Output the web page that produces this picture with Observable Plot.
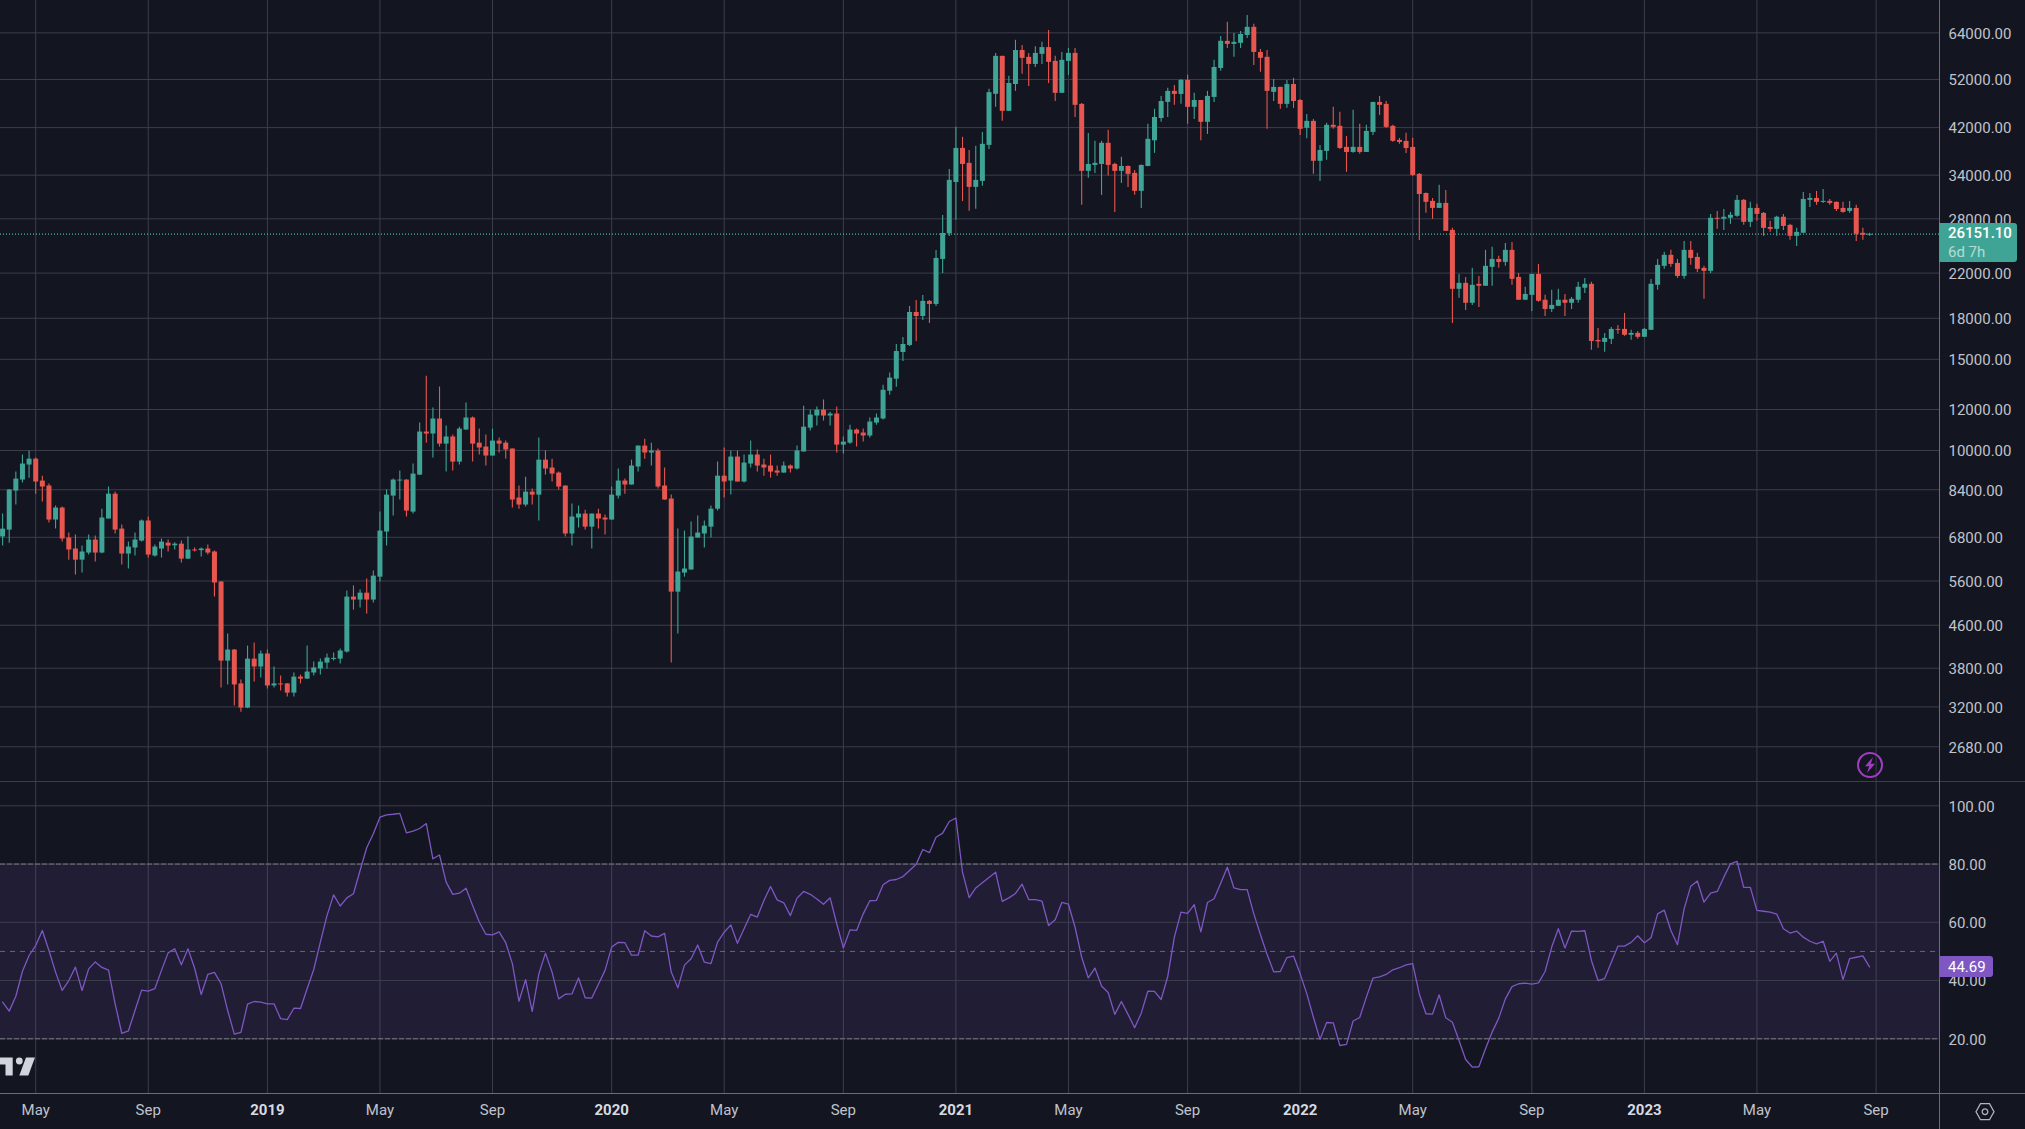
<!DOCTYPE html>
<html>
<head>
<meta charset="utf-8">
<script src="https://cdn.jsdelivr.net/npm/d3@7"></script>
<script src="https://cdn.jsdelivr.net/npm/@observablehq/plot@0.6"></script>
<style>
html,body{margin:0;padding:0;background:#131521;overflow:hidden}
#chart{position:relative;width:2025px;height:1129px;background:#131521;overflow:hidden;font-family:Roboto,sans-serif}
#chart svg{display:block}
.pane{position:absolute;left:0}
.line{position:absolute;background:#787b86}
.tag{position:absolute;left:1939px;color:#fff;box-sizing:border-box;text-align:left;padding-left:9px}
.icon{position:absolute;left:0;top:0;pointer-events:none}
</style>
</head>
<body>
<div id="chart"></div>
<script>
const opens = [
6810,7020,8350,8770,9375,9624,8730,8540,7342,7743,
6778,6455,6143,6340,6717,6340,7375,8237,7053,6312,
6483,6686,7311,6256,6455,6625,6549,6596,6171,6427,
6408,6455,6370,5574,3922,4120,3544,3183,3957,3821,
4048,3512,3544,3544,3402,3653,3620,3720,3788,3888,
3951,3957,4083,5213,5145,5305,5145,5696,6961,8167,
8731,8769,7606,8964,10855,10760,11503,10288,10620,9498,
10952,11555,10333,10155,9758,10428,10333,10067,8096,7848,
8312,8202,9580,9251,9046,8540,6900,7408,7540,7114,
7540,7408,7342,8167,8731,8579,9293,10200,9890,9979,
8540,8061,5329,5800,5880,6778,6900,7114,7705,8923,
8731,9714,8693,9416,9802,9375,9334,9128,9046,9334,
9211,9935,11046,11657,11965,11657,11760,10243,10333,10952,
10808,10666,11298,11503,13015,13730,15460,15950,18470,18140,
19400,19140,23380,26200,32910,38290,35830,32200,33070,38810,
48700,57650,45150,50860,59170,57400,55620,58160,59940,56380,
48910,56380,58410,46570,34580,35500,35660,39170,35660,34580,
35340,34270,31640,35340,39610,43730,46970,49340,48670,51800,
45960,47380,43000,48030,54630,61620,60800,61080,63260,65580,
58660,57400,49120,50220,46570,50860,47380,41870,43180,36160,
37780,42430,42240,38470,37610,38470,37610,41110,46970,46570,
42240,39680,39500,38460,34120,31340,30260,29330,29990,26600,
20470,21020,19240,20930,20750,22570,23380,23070,24340,21580,
19500,19930,21870,19500,18720,18980,19500,19240,19500,20570,
20930,16310,16170,16390,17130,17130,16690,16830,16540,17060,
20840,22670,23810,22970,21680,24340,23590,22470,22170,28070,
27950,28070,28320,30400,27570,29330,28690,26950,26720,28200,
27200,25910,26260,30400,30660,30130,30260,30130,29330,28940,
29330,26260,26030];
const closes = [
7050,8390,8807,9416,9624,8693,8502,7342,7743,6748,
6427,6143,6370,6717,6340,7408,8237,7022,6312,6511,
6717,7311,6284,6511,6656,6540,6596,6171,6427,6399,
6455,6340,5550,3922,4120,3528,3183,3957,3821,4048,
3512,3544,3528,3402,3653,3620,3736,3805,3905,3976,
3970,4102,5213,5145,5305,5145,5722,6991,8202,8769,
8769,7639,9005,10855,10760,11503,10288,10620,9498,10999,
11555,10288,10111,9758,10428,10288,10023,8025,7848,8312,
8202,9580,9211,9005,8502,6900,7441,7540,7114,7540,
7375,7342,8202,8731,8579,9334,10200,9890,9979,8502,
8025,5329,5828,5906,6809,6930,7146,7705,8923,8693,
9714,8693,9457,9802,9334,9251,9087,9046,9334,9211,
9979,11094,11708,11965,11657,11760,10243,10380,10952,10760,
10666,11350,11555,13070,13795,15530,16020,18470,18140,19400,
19140,23480,26240,33220,38290,35660,32200,33220,39000,49060,
57650,45150,51100,59170,57140,55620,58410,59940,56130,48910,
56630,58410,46370,34580,35660,35830,39170,35500,34580,35340,
34120,31640,35500,39870,43930,47160,49340,48670,51800,45960,
47380,43000,48250,54860,61640,60800,61350,63530,65580,58660,
57140,49340,50220,46570,50860,47160,41680,43180,36160,37940,
42430,42050,38290,37610,38470,37610,41300,46970,46370,42050,
39510,39320,38270,33960,31200,30130,29330,29990,26490,20470,
21020,19240,20840,20750,22670,23380,23070,24340,21400,19500,
20010,21870,19410,18720,19060,19500,19240,19580,20660,20930,
16240,16210,16460,17130,17060,16690,16830,16540,17130,20930,
22770,23810,22870,21680,24340,23480,22370,22170,28070,27950,
28200,28450,30400,27570,29330,28560,26840,26720,28200,27070,
25910,26370,30530,30660,30130,30260,29990,29190,28810,29330,
26140,26030,26151.1];
const highs = [
7540,8410,9087,9800,9980,9668,8923,8617,7814,7778,
6930,6870,6540,6870,6839,7705,8502,8312,7179,6656,
6930,7342,7441,6568,6748,6717,6635,6686,6809,6483,
6483,6568,6399,5590,4425,4130,3606,4193,4249,4102,
4120,3821,3669,3550,3720,3686,4193,3905,3957,4048,
4066,4138,5354,5478,5378,5647,5854,7606,8388,8807,
9128,8780,9416,11298,13915,12075,13260,11145,10713,11094,
12350,11607,10999,10713,10999,10573,10428,10070,8540,8883,
8426,10571,9979,9624,9087,8545,7883,7814,7672,7545,
7705,7507,8502,9211,8807,9580,10205,10510,10333,10067,
9251,8202,7053,6991,7278,7474,7311,7814,9498,10111,
9979,9979,9802,10428,10023,9624,9802,9334,9498,9375,
10200,12172,11965,12130,12520,11860,12130,10620,11190,10999,
10999,11555,11760,13370,14110,16020,16530,18970,19480,19920,
19480,24330,28420,34880,42050,40220,37940,38640,41110,49780,
58410,57700,52750,61900,60530,58410,60170,61350,64700,57650,
58660,59710,59710,46770,40920,39510,39510,41490,35830,36800,
35400,34730,35550,42620,45560,48250,50040,50660,52030,52980,
48910,47400,49340,56630,63000,67050,63810,64400,69100,66460,
59440,59170,52030,50250,51800,52280,47600,44540,43560,38810,
42810,45960,44950,40390,45350,42620,42430,47000,48250,47160,
42430,40000,40940,40040,34270,31400,30660,32500,31770,26840,
21870,21580,22470,21680,24340,24670,23700,25100,25210,21970,
20660,21900,22870,19930,20380,20470,20010,19750,21120,21490,
21120,17200,16830,17280,17430,18390,17060,16980,17200,21390,
23380,24130,24340,23380,25330,25330,24020,22670,28560,28940,
29190,28810,31070,30530,30130,29860,28810,27700,28320,28560,
27320,26840,31470,31340,31630,31910,30530,30160,30130,30260,
29730,26840,26260];
const lows = [
6540,6625,7850,8655,8845,8237,7954,7245,7053,6656,
6143,5748,5800,6284,6090,6320,7375,6900,6011,5906,
6256,6656,6200,6228,6200,6370,6427,6064,6160,6370,
6228,6284,5213,3480,3528,3212,3125,3175,3575,3637,
3465,3480,3433,3343,3343,3544,3615,3669,3686,3788,
3922,3872,4065,4919,4965,4835,5077,5574,6540,7474,
8025,7441,7540,8950,10330,9668,10155,9087,9128,9375,
10940,9498,9802,9334,9750,9890,9624,7743,7705,7778,
7848,7311,8964,8693,8388,6809,6540,7083,7022,6455,
7053,6870,7335,8061,8237,8570,9087,9624,9334,8426,
8020,3888,4425,5696,5875,6770,6483,6778,7639,8096,
8202,8690,8655,9251,9087,8923,8845,8923,9040,9046,
9170,9930,10904,11145,11400,11145,9890,9846,10288,10155,
10380,10573,11190,11452,12790,13250,14860,15880,16240,17830,
17590,18970,21970,25900,27810,30250,28950,29210,32350,38110,
45960,43180,45100,49340,53220,50440,54860,55620,51100,47160,
48900,52980,43940,29730,33520,34270,31080,33870,28800,32770,
32200,31080,29330,35300,37460,43000,43930,46370,46570,42620,
43560,39610,40750,46970,53930,59710,57400,59710,62440,55370,
53690,41680,47160,45560,45750,45750,40550,39990,34120,33070,
36310,41680,38110,34430,37460,37300,37600,40550,44340,41870,
39340,39000,37450,33800,25440,28690,27940,29320,26480,17590,
19670,18630,19060,18890,20740,20750,22470,22670,20840,19490,
19490,18550,19330,18150,18470,18970,18150,18720,19240,20100,
15610,15750,15470,16020,16760,16610,16320,16390,16530,17050,
20380,22370,22570,21490,21400,22770,22070,19580,21970,26720,
26600,27320,28200,27200,26950,27700,25910,26370,25910,26600,
25450,24770,26250,29460,29730,29990,29730,28940,28690,28690,
25330,25450,25910];
const rsiValues = [
32.6,29.5,34.6,43.2,48.6,52.0,57.2,50.3,42.9,36.6,
40.0,44.6,36.6,44.0,46.4,44.5,43.6,32.0,21.9,22.7,
29.7,36.7,36.4,37.2,43.5,49.5,50.9,45.4,50.9,44.3,
35.2,42.1,42.8,38.9,29.7,21.6,22.2,31.9,32.8,32.6,
32.0,32.0,26.9,26.6,30.5,30.4,37.2,43.8,53.2,62.3,
69.4,65.6,68.4,69.8,77.8,85.6,90.4,96.1,96.9,97.1,
97.4,90.7,91.3,92.2,93.9,81.8,83.1,73.8,69.6,70.0,
71.7,65.8,60.1,55.9,55.7,56.7,53.0,45.8,32.9,40.3,
29.4,42.3,49.4,42.9,33.7,35.3,35.4,40.9,34.1,34.0,
38.7,43.5,51.5,53.1,53.0,48.7,48.7,57.1,55.3,55.0,
56.2,42.9,37.5,45.3,47.5,52.2,46.3,45.8,53.2,56.6,
59.1,52.8,57.8,62.7,61.8,67.5,72.3,67.7,66.7,62.3,
68.3,70.6,69.6,68.0,66.2,68.4,59.5,51.2,57.4,57.2,
62.9,67.4,67.5,72.9,74.4,74.7,75.7,77.8,79.9,85.0,
83.9,89.2,90.6,94.6,95.8,77.2,68.5,71.8,73.6,75.4,
77.2,67.2,68.4,69.9,73.1,67.8,67.8,67.3,58.9,60.9,
66.8,66.2,58.3,48.0,40.9,44.3,38.1,35.9,28.4,32.8,
28.4,23.8,28.8,36.4,36.3,33.5,41.4,54.9,63.5,63.1,
66.1,56.7,66.8,68.1,73.4,78.9,71.8,71.2,71.2,62.9,
55.8,49.0,43.0,43.1,47.9,48.4,42.3,35.5,27.4,19.8,
25.6,25.5,17.7,18.1,26.1,27.3,34.3,40.8,41.3,42.1,
43.7,44.4,45.4,45.8,35.4,28.6,28.5,35.1,27.2,25.7,
19.4,12.9,10.3,10.4,16.6,22.3,27.1,33.7,37.9,38.9,
39.1,38.8,39.2,43.1,51.5,57.8,51.2,57.0,56.9,57.1,
46.9,40.0,40.7,46.3,51.8,51.8,53.1,55.4,53.0,54.7,
62.9,64.2,57.2,52.3,64.6,72.4,74.2,66.9,70.0,70.6,
75.5,80.1,80.9,72.0,72.0,64.1,63.8,63.5,62.8,57.8,
56.3,57.0,54.9,53.5,52.6,53.5,46.6,49.4,40.3,47.5,
48.0,48.5,44.69];
const priceTicks = [64000,52000,42000,34000,28000,22000,18000,15000,12000,10000,8400,6800,5600,4600,3800,3200,2680];
const rsiTicks = [100,80,60,40,20];
const monthTicks = ["2018-05-07","2018-09-03","2019-05-06","2019-09-02","2020-05-04","2020-09-07","2021-05-03","2021-09-06","2022-05-02","2022-09-05","2023-05-01","2023-09-04"].map(d=>new Date(d));
const yearTicks = ["2019-01-07","2020-01-06","2021-01-04","2022-01-03","2023-01-02"].map(d=>new Date(d));
const allTicks = [...monthTicks,...yearTicks];
const lastPrice = 26151.10, lastRsi = 44.69, countdown = "6d 7h";

const weeks = d3.utcMonday.range(new Date("2018-04-02"), new Date("2023-09-04"));
const bars = weeks.map((date,i)=>({date,open:opens[i],high:highs[i],low:lows[i],close:closes[i],rsi:rsiValues[i]}));
const up = bars.filter(d=>d.close>=d.open), down = bars.filter(d=>d.close<d.open);

const GREEN="#3fa495", RED="#e8574f", GRID="#3b3e4b", LABEL="#c0c3cb", PURPLE="#7e57c2";
const xScale = {type:"utc",domain:[new Date("2018-05-07"),new Date("2023-09-04")],range:[35.2,1875.6],axis:null};
const font = {fontFamily:"Roboto,sans-serif",fontSize:"15px",background:"transparent",overflow:"visible"};
const candle = (data,color)=>[
  Plot.ruleX(data,{x:"date",y1:"low",y2:"high",stroke:color,strokeWidth:1.1}),
  Plot.ruleX(data,{x:"date",y1:"open",y2:"close",stroke:color,strokeWidth:5})
];

const priceChart = Plot.plot({
  width:2025,height:781,marginTop:0,marginBottom:0,marginLeft:0,marginRight:86,style:font,
  x:xScale,
  y:{type:"log",domain:[2680,73890],range:[746.3,0],axis:null},
  marks:[
    Plot.ruleX(allTicks,{stroke:GRID,strokeWidth:1}),
    Plot.ruleY(priceTicks,{stroke:GRID,strokeWidth:1}),
    Plot.ruleY([lastPrice],{stroke:"#4fb5a6",strokeWidth:1.3,strokeDasharray:"1 2"}),
    ...candle(up,GREEN),
    ...candle(down,RED),
    Plot.axisY(priceTicks,{anchor:"right",tickSize:0,tickPadding:9,dy:1,tickFormat:d3.format(".2f"),color:LABEL,label:null})
  ]
});
const rsiChart = Plot.plot({
  width:2025,height:348,marginTop:0,marginBottom:36,marginLeft:0,marginRight:86,style:font,
  x:xScale,
  y:{domain:[20,100],range:[257.3,24.3],axis:null},
  marks:[
    Plot.ruleX(allTicks,{stroke:GRID,strokeWidth:1}),
    Plot.rectY([0],{y1:20,y2:80,fill:PURPLE,fillOpacity:0.13}),
    Plot.ruleY(rsiTicks,{stroke:GRID,strokeWidth:1}),
    Plot.ruleY([80,20],{stroke:"#787b86",strokeWidth:1,strokeDasharray:"5 2"}),
    Plot.ruleY([50],{stroke:"#787b86",strokeOpacity:0.8,strokeWidth:1,strokeDasharray:"5 5"}),
    Plot.lineY(bars,{x:"date",y:"rsi",stroke:PURPLE,strokeWidth:1.3,curve:"linear"}),
    Plot.axisY(rsiTicks,{anchor:"right",tickSize:0,tickPadding:9,dy:1,tickFormat:d3.format(".2f"),color:LABEL,label:null}),
    Plot.axisX(monthTicks,{anchor:"bottom",tickSize:0,tickPadding:11,tickFormat:d3.utcFormat("%b"),color:LABEL,label:null}),
    Plot.axisX(yearTicks,{anchor:"bottom",tickSize:0,tickPadding:11,tickFormat:d3.utcFormat("%Y"),color:"#d8dae0",fontWeight:"bold",label:null})
  ]
});

const chart = document.getElementById("chart");
priceChart.classList.add("pane"); priceChart.style.top="0px";
rsiChart.classList.add("pane"); rsiChart.style.top="781px";
chart.append(priceChart,rsiChart);

function addLine(l,t,w,h,c){const d=document.createElement("div");d.className="line";d.style.cssText=`left:${l}px;top:${t}px;width:${w}px;height:${h}px;background:${c}`;chart.append(d);}
addLine(0,781,2025,1,GRID);
addLine(1939,0,1,1129,"#6a6d78");
addLine(0,1093,2025,1,"#6a6d78");

const py = priceChart.scale("y").apply(lastPrice);
const tag = document.createElement("div");
tag.className="tag";
tag.style.cssText=`top:${py-10.5}px;width:78px;height:38.5px;background:${GREEN};border-radius:0 3px 3px 0;line-height:19px;font-size:15px;padding-top:1px`;
tag.innerHTML=`<div style="font-weight:500">${lastPrice.toFixed(2)}</div><div style="opacity:.6">${countdown}</div>`;
chart.append(tag);

const ry = 781 + rsiChart.scale("y").apply(lastRsi);
const tag2 = document.createElement("div");
tag2.className="tag";
tag2.style.cssText=`top:${ry-10.5}px;width:53.5px;height:21px;background:${PURPLE};border-radius:0 3px 3px 0;line-height:22px;font-size:15px`;
tag2.textContent=lastRsi.toFixed(2);
chart.append(tag2);

const icons = document.createElementNS("http://www.w3.org/2000/svg","svg");
icons.setAttribute("class","icon");icons.setAttribute("width",2025);icons.setAttribute("height",1129);
icons.innerHTML=`
<g transform="translate(1870,765)"><circle r="12" fill="none" stroke="#a03cc0" stroke-width="2"/><path d="M3,-8 L-5,1.2 L-0.8,1.2 L-3,8 L5,-1.2 L0.8,-1.2 Z" fill="#a03cc0"/></g>
<g fill="#d1d4dc"><path d="M0,1057.5 H12.7 V1075.5 H5.5 V1064.5 H0 Z"/><circle cx="19.3" cy="1061" r="3.4"/><path d="M26,1057.5 H35 L28.3,1075.5 H19.3 Z"/></g>
<g transform="translate(1985,1111.7)" fill="none" stroke="#b2b5be" stroke-width="1.3"><path d="M-9,0 L-4.5,-8 H4.5 L9,0 L4.5,8 H-4.5 Z"/><circle r="2.8"/></g>`;
chart.append(icons);
</script>
</body>
</html>
